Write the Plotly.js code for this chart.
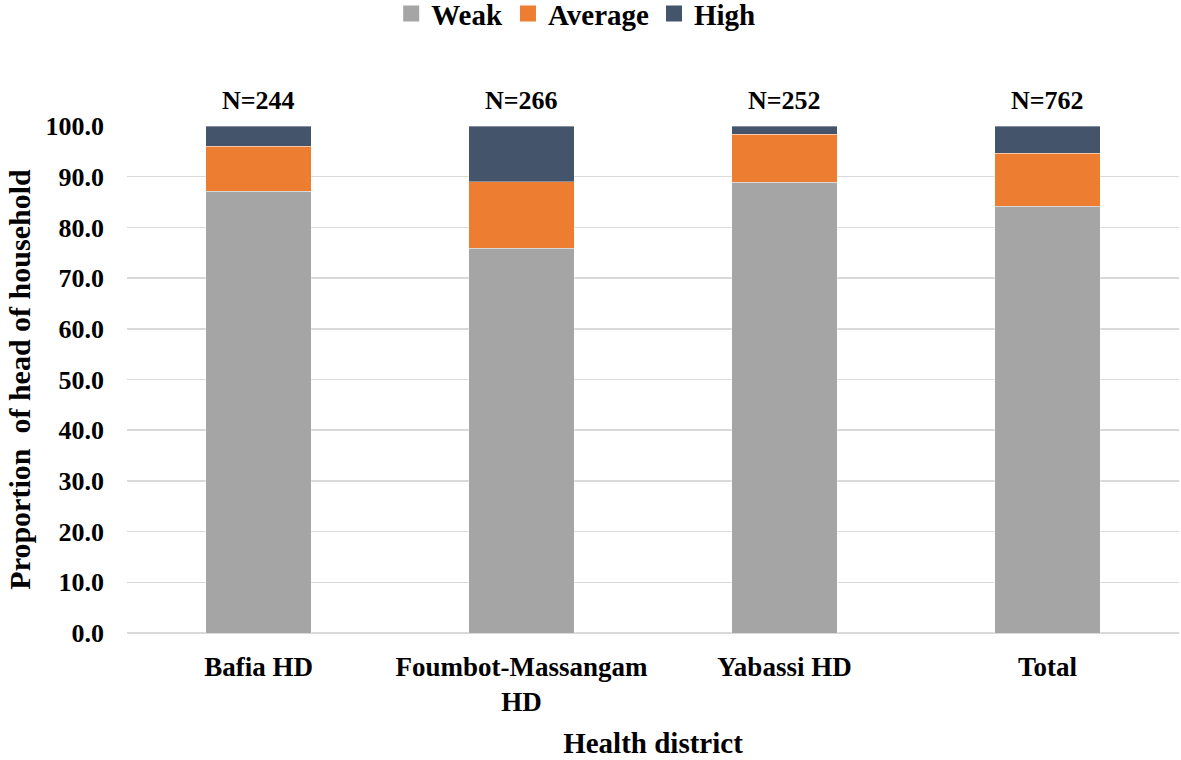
<!DOCTYPE html>
<html>
<head>
<meta charset="utf-8">
<script src="https://cdn.plot.ly/plotly-3.0.1.min.js"></script>
<style>html,body{margin:0;padding:0;background:#fff;}#chart{width:1181px;height:760px;}</style>
</head>
<body>
<div id="chart"></div>
<script>
const categories = ["Bafia HD", "Foumbot-Massangam<br>HD", "Yabassi HD", "Total"];
const sampleSizes = ["N=244", "N=266", "N=252", "N=762"];
const seriesNames = ["Weak", "Average", "High"];
const weak = [87.1, 75.9, 88.9, 84.2];
const average = [8.9, 13.1, 9.5, 10.4];
const high = [4.0, 11.0, 1.6, 5.4];
const totals = categories.map((c, i) => Math.round((weak[i] + average[i] + high[i]) * 10) / 10);

const colors = ["#A5A5A5", "#ED7D31", "#44546A"];
const font = "Liberation Serif, Times New Roman, serif";

const values = [weak, average, high];
const data = [];
values.forEach((v, k) => {
  data.push({
    type: "bar", name: seriesNames[k], x: categories, y: v,
    marker: {color: colors[k], line: {color: "rgba(255,255,255,0.35)", width: 1}},
    showlegend: false, legendgroup: seriesNames[k], hoverinfo: "skip"
  });
});
// legend entries with larger square swatches
values.forEach((v, k) => {
  data.push({
    type: "scatter", mode: "markers", name: seriesNames[k],
    x: [categories[0]], y: [null], legendgroup: seriesNames[k],
    marker: {symbol: "square", size: 16, color: colors[k], line: {width: 0}},
    showlegend: true, hoverinfo: "skip"
  });
});

const annotations = categories.map((c, i) => ({
  x: i, y: totals[i], yref: "y", xref: "x",
  text: "<b>" + sampleSizes[i] + "</b>", showarrow: false,
  yanchor: "bottom", yshift: 9,
  font: {family: font, size: 26, color: "#000"}
}));

const layout = {
  width: 1181, height: 760,
  margin: {l: 127, r: 2, t: 126, b: 127, autoexpand: false},
  barmode: "stack",
  bargap: 0.6,
  paper_bgcolor: "#fff", plot_bgcolor: "#fff",
  font: {family: font, color: "#000"},
  showlegend: true,
  legend: {
    orientation: "h", x: 0.427, xanchor: "center", y: 0.982, yanchor: "middle", yref: "container",
    font: {family: font, size: 29, color: "#000", weight: "bold"},
    itemwidth: 30, traceorder: "normal", itemclick: false, bgcolor: "rgba(0,0,0,0)"
  },
  xaxis: {
    type: "category",
    tickfont: {family: font, size: 27, color: "#000", weight: "bold"},
    showgrid: false, zeroline: false, showline: false, ticks: "",
    ticklabelstandoff: 15,
    title: {text: "<b>Health district</b>", font: {family: font, size: 29, color: "#000"}, standoff: 16}
  },
  yaxis: {
    range: [0, 100], dtick: 10, tickformat: ".1f",
    tickfont: {family: font, size: 26, color: "#000", weight: "bold"},
    showgrid: true, gridcolor: "#D9D9D9", gridwidth: 1.5,
    zeroline: true, zerolinecolor: "#D9D9D9", zerolinewidth: 1.5,
    showline: false, ticks: "",
    ticklabelstandoff: 22,
    title: {text: "<b>Proportion  of head of household</b>", font: {family: font, size: 30, color: "#000"}, standoff: 6}
  },
  annotations: annotations
};

Plotly.newPlot("chart", data, layout, {displayModeBar: false, staticPlot: true});
</script>
</body>
</html>
